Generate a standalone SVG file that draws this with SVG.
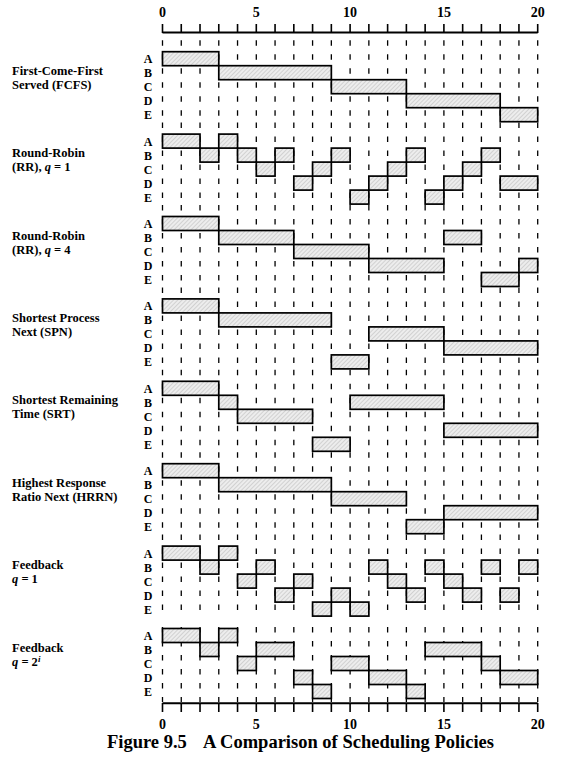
<svg xmlns="http://www.w3.org/2000/svg" width="561" height="762" viewBox="0 0 561 762">
<style>
.lbl{font-family:"Liberation Serif","Times New Roman",serif;font-weight:bold;font-size:12.5px;fill:#000}
.row{font-family:"Liberation Serif","Times New Roman",serif;font-weight:bold;font-size:12px;fill:#000;text-anchor:middle}
.num{font-family:"Liberation Serif","Times New Roman",serif;font-weight:bold;font-size:14px;fill:#000;text-anchor:middle}
.cap{font-family:"Liberation Serif","Times New Roman",serif;font-weight:bold;font-size:18.5px;fill:#000}
.grid{stroke:#000;stroke-width:1.3;stroke-dasharray:5.5 8.5;fill:none}
.axis{stroke:#000;stroke-width:2;fill:none}
.tick{stroke:#000;stroke-width:1.6;fill:none}
.bar rect{fill:url(#hatch);stroke:#000;stroke-width:1.7}
</style>
<defs>
<pattern id="hatch" width="3" height="3" patternUnits="userSpaceOnUse" patternTransform="rotate(45)">
<rect width="3" height="3" fill="#ededed"/>
<line x1="0" y1="0" x2="0" y2="3" stroke="#b5b5b5" stroke-width="1"/>
</pattern>
</defs>
<rect width="561" height="762" fill="#fff"/>

<g id="axes">
<path class="axis" d="M162.5 32.5H537.7M162.5 703.3H537.7"/>
<path class="tick" d="M162.5 24V33M181.26 24V33M200.02 24V33M218.78 24V33M237.54 24V33M256.3 24V33M275.06 24V33M293.82 24V33M312.58 24V33M331.34 24V33M350.1 24V33M368.86 24V33M387.62 24V33M406.38 24V33M425.14 24V33M443.9 24V33M462.66 24V33M481.42 24V33M500.18 24V33M518.94 24V33M537.7 24V33"/>
<path class="tick" d="M162.5 703V712M181.26 703V712M200.02 703V712M218.78 703V712M237.54 703V712M256.3 703V712M275.06 703V712M293.82 703V712M312.58 703V712M331.34 703V712M350.1 703V712M368.86 703V712M387.62 703V712M406.38 703V712M425.14 703V712M443.9 703V712M462.66 703V712M481.42 703V712M500.18 703V712M518.94 703V712M537.7 703V712"/>
<text class="num" x="162.5" y="17">0</text>
<text class="num" x="256.3" y="17">5</text>
<text class="num" x="350.1" y="17">10</text>
<text class="num" x="443.9" y="17">15</text>
<text class="num" x="537.7" y="17">20</text>
<text class="num" x="162.5" y="729">0</text>
<text class="num" x="256.3" y="729">5</text>
<text class="num" x="350.1" y="729">10</text>
<text class="num" x="443.9" y="729">15</text>
<text class="num" x="537.7" y="729">20</text>
</g>

<g id="gridlines">
<path id="gridcol" class="grid" d="M162.5 0V82.4M181.26 0V82.4M200.02 0V82.4M218.78 0V82.4M237.54 0V82.4M256.3 0V82.4M275.06 0V82.4M293.82 0V82.4M312.58 0V82.4M331.34 0V82.4M350.1 0V82.4M368.86 0V82.4M387.62 0V82.4M406.38 0V82.4M425.14 0V82.4M443.9 0V82.4M462.66 0V82.4M481.42 0V82.4M500.18 0V82.4M518.94 0V82.4M537.7 0V82.4" transform="translate(0 40.2)"/>
<use href="#gridcol" transform="translate(0 82.4)"/>
<use href="#gridcol" transform="translate(0 164.8)"/>
<use href="#gridcol" transform="translate(0 247.2)"/>
<use href="#gridcol" transform="translate(0 329.6)"/>
<use href="#gridcol" transform="translate(0 412)"/>
<use href="#gridcol" transform="translate(0 494.4)"/>
<path class="grid" d="M162.5 0V75M181.26 0V75M200.02 0V75M218.78 0V75M237.54 0V75M256.3 0V75M275.06 0V75M293.82 0V75M312.58 0V75M331.34 0V75M350.1 0V75M368.86 0V75M387.62 0V75M406.38 0V75M425.14 0V75M443.9 0V75M462.66 0V75M481.42 0V75M500.18 0V75M518.94 0V75M537.7 0V75" transform="translate(0 627)"/>
</g>

<g id="fcfs" transform="translate(0 51.7)">
<text class="lbl" x="12" y="23">First-Come-First</text>
<text class="lbl" x="12" y="37">Served (FCFS)</text>
<text class="row" x="148" y="11.5">A</text><text class="row" x="148" y="25.5">B</text><text class="row" x="148" y="39.5">C</text><text class="row" x="148" y="53.5">D</text><text class="row" x="148" y="67.5">E</text>
<g class="bar">
<rect x="162.5" y="0" width="56.28" height="14"/>
<rect x="218.78" y="14" width="112.56" height="14"/>
<rect x="331.34" y="28" width="75.04" height="14"/>
<rect x="406.38" y="42" width="93.8" height="14"/>
<rect x="500.18" y="56" width="37.52" height="14"/>
</g>
</g>

<g id="rr1" transform="translate(0 134.1)">
<text class="lbl" x="12" y="23">Round-Robin</text>
<text class="lbl" x="12" y="37">(RR), <tspan font-style="italic">q</tspan> = 1</text>
<text class="row" x="148" y="11.5">A</text><text class="row" x="148" y="25.5">B</text><text class="row" x="148" y="39.5">C</text><text class="row" x="148" y="53.5">D</text><text class="row" x="148" y="67.5">E</text>
<g class="bar">
<rect x="162.5" y="0" width="37.52" height="14"/>
<rect x="200.02" y="14" width="18.76" height="14"/>
<rect x="218.78" y="0" width="18.76" height="14"/>
<rect x="237.54" y="14" width="18.76" height="14"/>
<rect x="256.3" y="28" width="18.76" height="14"/>
<rect x="275.06" y="14" width="18.76" height="14"/>
<rect x="293.82" y="42" width="18.76" height="14"/>
<rect x="312.58" y="28" width="18.76" height="14"/>
<rect x="331.34" y="14" width="18.76" height="14"/>
<rect x="350.1" y="56" width="18.76" height="14"/>
<rect x="368.86" y="42" width="18.76" height="14"/>
<rect x="387.62" y="28" width="18.76" height="14"/>
<rect x="406.38" y="14" width="18.76" height="14"/>
<rect x="425.14" y="56" width="18.76" height="14"/>
<rect x="443.9" y="42" width="18.76" height="14"/>
<rect x="462.66" y="28" width="18.76" height="14"/>
<rect x="481.42" y="14" width="18.76" height="14"/>
<rect x="500.18" y="42" width="37.52" height="14"/>
</g>
</g>

<g id="rr4" transform="translate(0 216.5)">
<text class="lbl" x="12" y="23">Round-Robin</text>
<text class="lbl" x="12" y="37">(RR), <tspan font-style="italic">q</tspan> = 4</text>
<text class="row" x="148" y="11.5">A</text><text class="row" x="148" y="25.5">B</text><text class="row" x="148" y="39.5">C</text><text class="row" x="148" y="53.5">D</text><text class="row" x="148" y="67.5">E</text>
<g class="bar">
<rect x="162.5" y="0" width="56.28" height="14"/>
<rect x="218.78" y="14" width="75.04" height="14"/>
<rect x="293.82" y="28" width="75.04" height="14"/>
<rect x="368.86" y="42" width="75.04" height="14"/>
<rect x="443.9" y="14" width="37.52" height="14"/>
<rect x="481.42" y="56" width="37.52" height="14"/>
<rect x="518.94" y="42" width="18.76" height="14"/>
</g>
</g>

<g id="spn" transform="translate(0 298.9)">
<text class="lbl" x="12" y="23">Shortest Process</text>
<text class="lbl" x="12" y="37">Next (SPN)</text>
<text class="row" x="148" y="11.5">A</text><text class="row" x="148" y="25.5">B</text><text class="row" x="148" y="39.5">C</text><text class="row" x="148" y="53.5">D</text><text class="row" x="148" y="67.5">E</text>
<g class="bar">
<rect x="162.5" y="0" width="56.28" height="14"/>
<rect x="218.78" y="14" width="112.56" height="14"/>
<rect x="331.34" y="56" width="37.52" height="14"/>
<rect x="368.86" y="28" width="75.04" height="14"/>
<rect x="443.9" y="42" width="93.8" height="14"/>
</g>
</g>

<g id="srt" transform="translate(0 381.3)">
<text class="lbl" x="12" y="23">Shortest Remaining</text>
<text class="lbl" x="12" y="37">Time (SRT)</text>
<text class="row" x="148" y="11.5">A</text><text class="row" x="148" y="25.5">B</text><text class="row" x="148" y="39.5">C</text><text class="row" x="148" y="53.5">D</text><text class="row" x="148" y="67.5">E</text>
<g class="bar">
<rect x="162.5" y="0" width="56.28" height="14"/>
<rect x="218.78" y="14" width="18.76" height="14"/>
<rect x="237.54" y="28" width="75.04" height="14"/>
<rect x="312.58" y="56" width="37.52" height="14"/>
<rect x="350.1" y="14" width="93.8" height="14"/>
<rect x="443.9" y="42" width="93.8" height="14"/>
</g>
</g>

<g id="hrrn" transform="translate(0 463.7)">
<text class="lbl" x="12" y="23">Highest Response</text>
<text class="lbl" x="12" y="37">Ratio Next (HRRN)</text>
<text class="row" x="148" y="11.5">A</text><text class="row" x="148" y="25.5">B</text><text class="row" x="148" y="39.5">C</text><text class="row" x="148" y="53.5">D</text><text class="row" x="148" y="67.5">E</text>
<g class="bar">
<rect x="162.5" y="0" width="56.28" height="14"/>
<rect x="218.78" y="14" width="112.56" height="14"/>
<rect x="331.34" y="28" width="75.04" height="14"/>
<rect x="406.38" y="56" width="37.52" height="14"/>
<rect x="443.9" y="42" width="93.8" height="14"/>
</g>
</g>

<g id="fb1" transform="translate(0 546.1)">
<text class="lbl" x="12" y="23">Feedback</text>
<text class="lbl" x="12" y="37"><tspan font-style="italic">q</tspan> = 1</text>
<text class="row" x="148" y="11.5">A</text><text class="row" x="148" y="25.5">B</text><text class="row" x="148" y="39.5">C</text><text class="row" x="148" y="53.5">D</text><text class="row" x="148" y="67.5">E</text>
<g class="bar">
<rect x="162.5" y="0" width="37.52" height="14"/>
<rect x="200.02" y="14" width="18.76" height="14"/>
<rect x="218.78" y="0" width="18.76" height="14"/>
<rect x="237.54" y="28" width="18.76" height="14"/>
<rect x="256.3" y="14" width="18.76" height="14"/>
<rect x="275.06" y="42" width="18.76" height="14"/>
<rect x="293.82" y="28" width="18.76" height="14"/>
<rect x="312.58" y="56" width="18.76" height="14"/>
<rect x="331.34" y="42" width="18.76" height="14"/>
<rect x="350.1" y="56" width="18.76" height="14"/>
<rect x="368.86" y="14" width="18.76" height="14"/>
<rect x="387.62" y="28" width="18.76" height="14"/>
<rect x="406.38" y="42" width="18.76" height="14"/>
<rect x="425.14" y="14" width="18.76" height="14"/>
<rect x="443.9" y="28" width="18.76" height="14"/>
<rect x="462.66" y="42" width="18.76" height="14"/>
<rect x="481.42" y="14" width="18.76" height="14"/>
<rect x="500.18" y="42" width="18.76" height="14"/>
<rect x="518.94" y="14" width="18.76" height="14"/>
</g>
</g>

<g id="fb2i" transform="translate(0 628.5)">
<text class="lbl" x="12" y="23">Feedback</text>
<text class="lbl" x="12" y="37"><tspan font-style="italic">q</tspan> = 2<tspan font-style="italic" font-size="9" dy="-4">i</tspan></text>
<text class="row" x="148" y="11.5">A</text><text class="row" x="148" y="25.5">B</text><text class="row" x="148" y="39.5">C</text><text class="row" x="148" y="53.5">D</text><text class="row" x="148" y="67.5">E</text>
<g class="bar">
<rect x="162.5" y="0" width="37.52" height="14"/>
<rect x="200.02" y="14" width="18.76" height="14"/>
<rect x="218.78" y="0" width="18.76" height="14"/>
<rect x="237.54" y="28" width="18.76" height="14"/>
<rect x="256.3" y="14" width="37.52" height="14"/>
<rect x="293.82" y="42" width="18.76" height="14"/>
<rect x="312.58" y="56" width="18.76" height="14"/>
<rect x="331.34" y="28" width="37.52" height="14"/>
<rect x="368.86" y="42" width="37.52" height="14"/>
<rect x="406.38" y="56" width="18.76" height="14"/>
<rect x="425.14" y="14" width="56.28" height="14"/>
<rect x="481.42" y="28" width="18.76" height="14"/>
<rect x="500.18" y="42" width="37.52" height="14"/>
</g>
</g>

<g id="caption">
<text class="cap" x="107" y="748">Figure 9.5</text>
<text class="cap" x="494" y="748" text-anchor="end">A Comparison of Scheduling Policies</text>
</g>
</svg>
